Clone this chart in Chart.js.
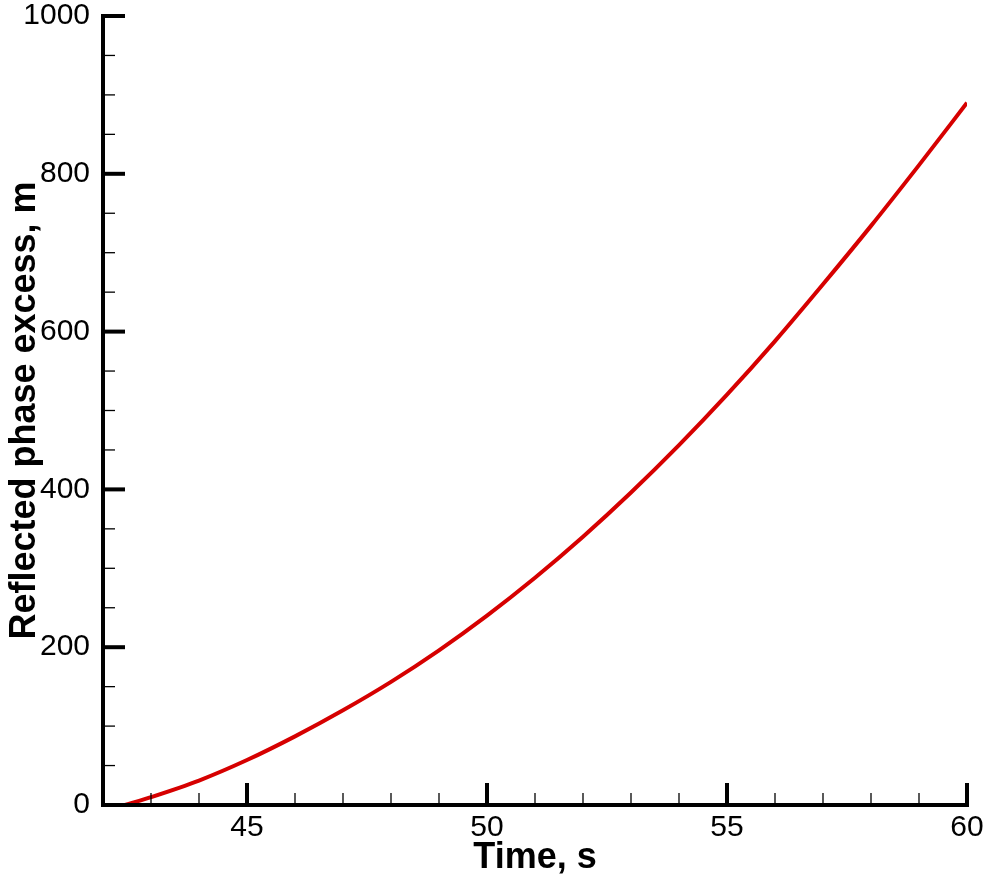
<!DOCTYPE html>
<html>
<head>
<meta charset="utf-8">
<script src="https://cdn.jsdelivr.net/npm/chart.js@4"></script>
<style>
  html, body { margin: 0; padding: 0; background: #fff; }
  #wrap { width: 989px; height: 883px; }
</style>
</head>
<body>
<div id="wrap"><canvas id="myChart" width="989" height="883"></canvas></div>
<script>
// values
const time_s = [42.46, 43, 44, 45, 46, 47, 48, 49, 50, 51, 52, 53, 54, 55, 56, 57, 58, 59, 60];
const phase_m = [0, 10, 31, 57, 87, 120, 156, 196, 240, 288, 340, 396, 456, 520, 588, 660, 734, 811, 890];

const x_major = [45, 50, 55, 60];
const y_major = [0, 200, 400, 600, 800, 1000];

const points = [];
for (let i = 0; i < time_s.length; i++) {
  points.push({x: time_s[i], y: phase_m[i]});
}

// axis lines + inward ticks (major and minor) drawn from the scales
const axisPlugin = {
  id: 'axisTicks',
  afterDraw(chart) {
    const ctx = chart.ctx;
    const xs = chart.scales.x;
    const ys = chart.scales.y;
    const left = xs.getPixelForValue(42);
    const right = xs.getPixelForValue(60);
    const bottom = ys.getPixelForValue(0);
    const top = ys.getPixelForValue(1000);
    ctx.save();
    ctx.strokeStyle = '#000';
    ctx.lineCap = 'butt';

    // minor ticks
    ctx.lineWidth = 1.3;
    for (let v = 43; v < 60; v++) {
      if (v % 5 === 0) continue;
      const px = xs.getPixelForValue(v);
      ctx.beginPath(); ctx.moveTo(px, bottom); ctx.lineTo(px, bottom - 12); ctx.stroke();
    }
    for (let v = 50; v < 1000; v += 50) {
      if (v % 200 === 0) continue;
      const py = ys.getPixelForValue(v);
      ctx.beginPath(); ctx.moveTo(left, py); ctx.lineTo(left + 12, py); ctx.stroke();
    }

    // major ticks
    ctx.lineWidth = 4;
    x_major.forEach(v => {
      const px = xs.getPixelForValue(v);
      ctx.beginPath(); ctx.moveTo(px, bottom); ctx.lineTo(px, bottom - 22); ctx.stroke();
    });
    y_major.forEach(v => {
      const py = ys.getPixelForValue(v);
      ctx.beginPath(); ctx.moveTo(left, py); ctx.lineTo(left + 22, py); ctx.stroke();
    });

    // axis lines
    ctx.beginPath();
    ctx.moveTo(left, top - 2);
    ctx.lineTo(left, bottom + 2);
    ctx.moveTo(left - 2, bottom);
    ctx.lineTo(right + 2, bottom);
    ctx.stroke();
    ctx.restore();
  }
};

const ctx = document.getElementById('myChart');

new Chart(ctx, {
  type: 'line',
  data: {
    datasets: [{
      data: points,
      borderColor: 'rgb(214, 0, 0)',
      borderWidth: 4,
      pointRadius: 0,
      fill: false,
      cubicInterpolationMode: 'monotone',
    }]
  },
  options: {
    responsive: false,
    animation: false,
    layout: { padding: { left: 0, top: 16, right: 22, bottom: 0 } },
    plugins: {
      legend: { display: false },
      tooltip: { enabled: false },
    },
    scales: {
      x: {
        type: 'linear',
        min: 42,
        max: 60,
        afterBuildTicks: (s) => { s.ticks = x_major.map(v => ({value: v})); },
        afterFit: (s) => { s.height = 78; s.paddingLeft = 0; s.paddingRight = 0; },
        grid: { display: false, drawTicks: false },
        border: { display: false },
        ticks: {
          color: '#000',
          padding: 5,
          font: { family: 'Liberation Sans, Arial', size: 30 },
          callback: (v) => String(v),
        },
        title: {
          display: true,
          text: 'Time, s',
          color: '#000',
          padding: 3,
          font: { family: 'Liberation Sans, Arial', size: 36, weight: 'bold' },
        },
      },
      y: {
        type: 'linear',
        min: 0,
        max: 1000,
        afterBuildTicks: (s) => { s.ticks = y_major.map(v => ({value: v})); },
        afterFit: (s) => { s.width = 103; s.paddingTop = 0; s.paddingBottom = 0; },
        grid: { display: false, drawTicks: false },
        border: { display: false },
        ticks: {
          color: '#000',
          padding: 13,
          font: { family: 'Liberation Sans, Arial', size: 30 },
          callback: (v) => String(v),
        },
        title: {
          display: true,
          text: 'Reflected phase excess, m',
          color: '#000',
          padding: 3,
          font: { family: 'Liberation Sans, Arial', size: 36, weight: 'bold' },
        },
      },
    },
  },
  plugins: [axisPlugin],
});
</script>
</body>
</html>
